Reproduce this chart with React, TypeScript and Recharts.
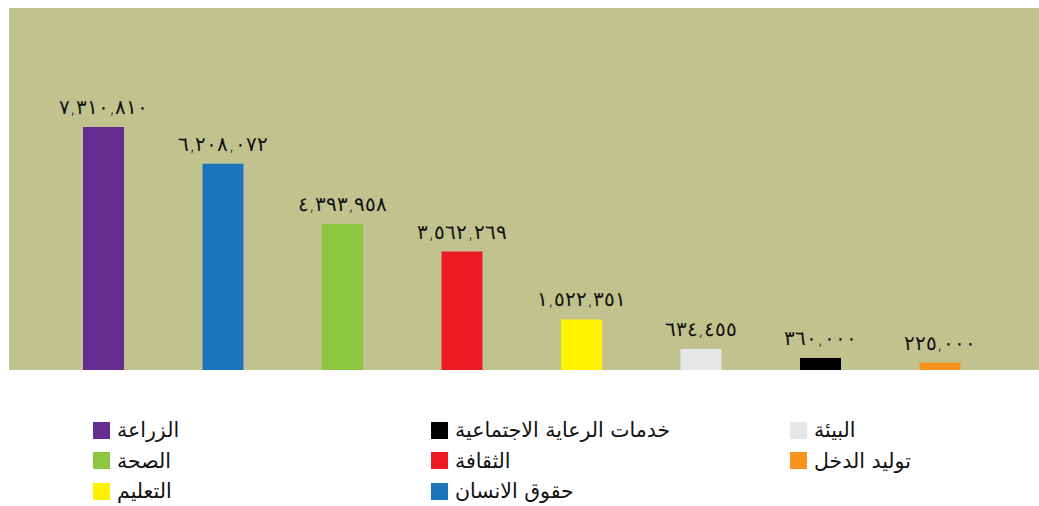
import React from 'react';
import { BarChart, Bar, Cell, XAxis, YAxis, CartesianGrid, LabelList } from 'recharts';

// بيانات المخطط
const categories = [
  'الزراعة',
  'حقوق الانسان',
  'الصحة',
  'الثقافة',
  'التعليم',
  'البيئة',
  'خدمات الرعاية الاجتماعية',
  'توليد الدخل',
];
const amounts = [7310810, 6208072, 4393958, 3562269, 1522351, 634455, 360000, 225000];
const barColors = ['#662D91', '#1C75BC', '#8DC63F', '#ED1C24', '#FFF200', '#E6E7E8', '#000000', '#F7941D'];

// ترتيب المفتاح (ثلاثة أعمدة)
const legendColumns = [
  ['الزراعة', 'الصحة', 'التعليم'],
  ['خدمات الرعاية الاجتماعية', 'الثقافة', 'حقوق الانسان'],
  ['البيئة', 'توليد الدخل'],
];

const arabicDigits = '٠١٢٣٤٥٦٧٨٩';
const toArabic = (v: number) =>
  v.toLocaleString('en-US').replace(/[0-9]/g, (d) => arabicDigits[Number(d)]);

const colorOf = (name: string) => barColors[categories.indexOf(name)];

function ChartLegend() {
  const lefts = [93, 431, 790];
  return (
    <div style={{ position: 'absolute', left: 0, top: 0, width: 1039, height: 506, pointerEvents: 'none' }}>
      {legendColumns.map((col, ci) =>
        col.map((name, ri) => (
          <div
            key={name}
            style={{
              position: 'absolute',
              left: lefts[ci],
              top: 421 + ri * 30.5,
              display: 'flex',
              alignItems: 'center',
              height: 18,
            }}
          >
            <span style={{ width: 17, height: 17, background: colorOf(name), display: 'inline-block' }} />
            <span
              style={{
                marginLeft: 7,
                fontFamily: '"DejaVu Sans", sans-serif',
                fontSize: 20.5,
                color: '#111',
                whiteSpace: 'nowrap',
                lineHeight: '18px',
              }}
            >
              {name}
            </span>
          </div>
        ))
      )}
    </div>
  );
}

export default function App(): React.ReactElement {
  const data = categories.map((name, i) => ({ name, value: amounts[i] }));

  return (
    <div style={{ position: 'absolute', left: 0, top: 0, width: 1039, height: 506, background: '#fff' }}>
      <BarChart width={1039} height={506} data={data} margin={{ top: 8, left: 9, right: 0, bottom: 136 }}>
        <CartesianGrid fill="#C1C38F" stroke="none" horizontal={false} vertical={false} />
        <XAxis dataKey="name" hide padding={{ left: 35, right: 39 }} />
        <YAxis hide domain={[0, 10890000]} />
        <Bar dataKey="value" barSize={41} isAnimationActive={false}>
          {data.map((item, index) => (
            <Cell key={index} fill={barColors[index]} />
          ))}
          <LabelList
            dataKey="value"
            position="top"
            offset={13}
            formatter={(v: any) => toArabic(Number(v))}
            style={{ fontFamily: '"DejaVu Sans", sans-serif', fontSize: 20, fontWeight: 300, letterSpacing: 3, fill: '#111' }}
          />
        </Bar>
      </BarChart>
      <ChartLegend />
    </div>
  );
}
